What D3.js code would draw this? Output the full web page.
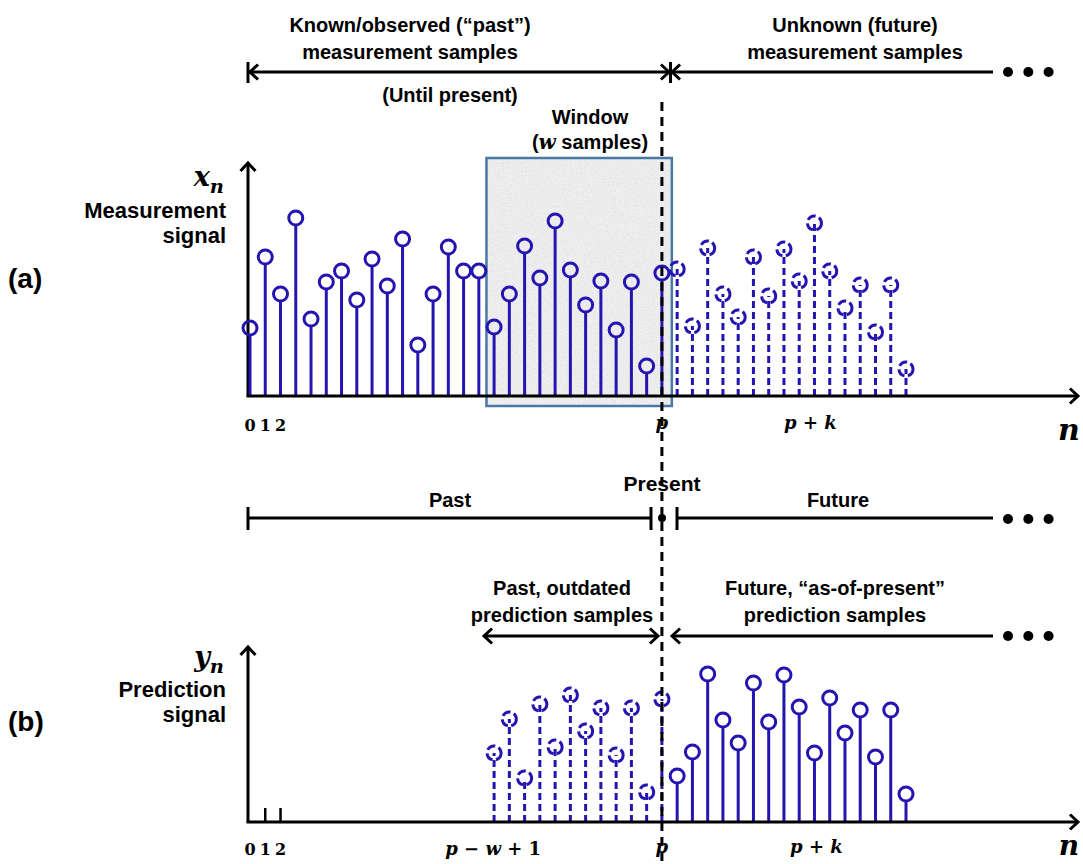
<!DOCTYPE html>
<html>
<head>
<meta charset="utf-8">
<script src="https://cdn.jsdelivr.net/npm/d3@7"></script>
<style>
  body { margin: 0; background: #fff; }
  .lbl { font-family: "Liberation Sans", Arial, sans-serif; font-weight: bold; font-size: 20px; fill: #000; }
  .math { font-family: "DejaVu Serif", "Liberation Serif", serif; font-weight: bold; fill: #000; }
</style>
</head>
<body>
<svg id="fig" width="1083" height="864"></svg>
<script>
// Sample amplitudes (arbitrary units), listed in order of the sample index n.
const measuredKnown = [3.4, 6.95, 5.1, 8.9, 3.85, 5.7, 6.25, 4.8, 6.85, 5.5, 7.85, 2.55, 5.1, 7.45,
                       6.25, 6.25, 3.45, 5.1, 7.5, 5.9, 8.75, 6.3, 4.55, 5.75, 3.3, 5.7, 1.5, 6.15];   // n = 0..27
const measuredUnknown = [6.35, 3.5, 7.4, 5.1, 3.95, 6.95, 5.0, 7.35, 5.75, 8.65, 6.25, 4.4, 5.55, 3.2, 5.55, 1.35]; // n = 28..43
const predictionOutdated = [3.45, 5.15, 2.2, 5.9, 3.75, 6.35, 4.55, 5.7, 3.35, 5.7, 1.5, 6.15];           // n = 16..27
const predictionAhead = [2.3, 3.5, 7.4, 5.1, 3.95, 6.95, 5.0, 7.35, 5.75, 3.45, 6.2, 4.45, 5.6, 3.25, 5.6, 1.4]; // n = 28..43
const predictionStub = [0.7, 0.7];                                                                     // n = 1..2

const firstKnown = 0, firstUnknown = 28, firstOutdated = 16, firstAhead = 28, firstStub = 1;
const presentIndex = 27;     // p
const windowFirst = 16;      // p - w + 1
const horizonIndex = 37;     // p + k
const lastIndex = 43;
const originTicks = ["0", "1", "2"];

const BLUE = "#2414b0";
const svg = d3.select("#fig");

const x = d3.scaleLinear().domain([0, lastIndex]).range([250, 906]);
const yA = d3.scaleLinear().domain([0, 10]).range([396, 196]);
const yB = d3.scaleLinear().domain([0, 10]).range([822, 622]);

const withIndex = (vals, start) => vals.map((v, i) => ({ n: start + i, v }));
const line = d3.line();

// grainy fill for the window box
const defs = svg.append("defs");
const grain = defs.append("filter").attr("id", "grain").attr("x", 0).attr("y", 0).attr("width", 1).attr("height", 1);
grain.append("feTurbulence").attr("type", "fractalNoise").attr("baseFrequency", 0.9).attr("numOctaves", 3).attr("seed", 4).attr("result", "noise");
grain.append("feColorMatrix").attr("in", "noise").attr("type", "matrix")
  .attr("values", "0 0 0 0 0.68  0 0 0 0 0.68  0 0 0 0 0.70  1.4 0 0 0 -0.55").attr("result", "dots");
grain.append("feComposite").attr("in", "dots").attr("in2", "SourceGraphic").attr("operator", "in");

function chevron(g, tx, ty, dx, dy, len = 11, ang = 0.75) {
  const a = Math.atan2(dy, dx);
  const p1 = [tx - len * Math.cos(a - ang), ty - len * Math.sin(a - ang)];
  const p2 = [tx - len * Math.cos(a + ang), ty - len * Math.sin(a + ang)];
  g.append("path").attr("d", line([p1, [tx, ty], p2]))
    .attr("fill", "none").attr("stroke", "#000").attr("stroke-width", 3)
    .attr("stroke-linejoin", "miter").attr("stroke-linecap", "butt");
}
function seg(g, x1, y1, x2, y2, w = 3) {
  g.append("path").attr("d", line([[x1, y1], [x2, y2]])).attr("stroke", "#000").attr("stroke-width", w).attr("fill", "none");
}
function dots(g, x0, y) {
  [0, 1, 2].forEach(i => g.append("circle").attr("cx", x0 + i * 20.3).attr("cy", y).attr("r", 5).attr("fill", "#000"));
}
function text(g, s, tx, ty, size = 20, anchor = "middle") {
  return g.append("text").attr("class", "lbl").attr("x", tx).attr("y", ty)
    .attr("text-anchor", anchor).style("font-size", size + "px").text(s);
}
function mathText(g, parts, tx, ty, size, anchor = "middle") {
  const t = g.append("text").attr("class", "math").attr("x", tx).attr("y", ty)
    .attr("text-anchor", anchor).style("font-size", size + "px");
  parts.forEach(([s, italic, sub]) => {
    const sp = t.append("tspan").text(s).attr("font-style", italic ? "italic" : "normal");
    if (sub) sp.style("font-size", (size * 0.72) + "px").attr("dy", size * 0.25);
  });
  return t;
}

function stems(g, data, y, dashed) {
  const r = 7;
  const sel = g.selectAll(null).data(data).enter().append("g");
  sel.append("line")
    .attr("x1", d => x(d.n)).attr("x2", d => x(d.n))
    .attr("y1", y(0)).attr("y2", d => dashed ? y(d.v) : y(d.v) + r)
    .attr("stroke", BLUE).attr("stroke-width", 3)
    .attr("stroke-dasharray", dashed ? "7,4" : null);
  sel.append("circle")
    .attr("cx", d => x(d.n)).attr("cy", d => y(d.v)).attr("r", r)
    .attr("fill", "none").attr("stroke", BLUE).attr("stroke-width", 3)
    .attr("stroke-dasharray", dashed ? "9,3.5" : null);
}

function panel(y, topY) {
  const g = svg.append("g");
  seg(g, 248, y(0), 248, topY);
  chevron(g, 248, topY, 0, -1);
  return g;
}

// ---------- top annotations ----------
const headG = svg.append("g");
text(headG, "Known/observed (\u201Cpast\u201D)", 410, 32);
text(headG, "measurement samples", 410, 59);
text(headG, "Unknown (future)", 855, 32);
text(headG, "measurement samples", 855, 59);
seg(headG, 248, 72, 669, 72);
seg(headG, 248, 62, 248, 83);
seg(headG, 670.5, 62, 670.5, 83);
chevron(headG, 250, 72, -1, 0);
chevron(headG, 669, 72, 1, 0);
seg(headG, 672, 72, 993, 72);
chevron(headG, 672, 72, -1, 0);
dots(headG, 1008, 72);
text(headG, "(Until present)", 450, 102);
text(headG, "Window", 590, 124);
const ws = text(headG, "(", 590, 149);
ws.append("tspan").attr("font-family", "'DejaVu Serif', serif").attr("font-style", "italic").text("w");
ws.append("tspan").text(" samples)");

// ---------- panel (a): measurement signal ----------
const winG = svg.append("g");
const wx0 = x(windowFirst - 0.5), wx1 = x(presentIndex + 0.65);
winG.append("rect").attr("x", wx0).attr("y", 158).attr("width", wx1 - wx0).attr("height", 248).attr("fill", "#f0f0f1");
winG.append("rect").attr("x", wx0).attr("y", 158).attr("width", wx1 - wx0).attr("height", 248).attr("fill", "#fff").attr("filter", "url(#grain)");
winG.append("rect").attr("x", wx0).attr("y", 158).attr("width", wx1 - wx0).attr("height", 248)
  .attr("fill", "none").attr("stroke", "#4a78a6").attr("stroke-width", 2.5);

const gA = panel(yA, 163);
stems(gA, withIndex(measuredKnown, firstKnown), yA, false);
stems(gA, withIndex(measuredUnknown, firstUnknown), yA, true);
seg(gA, 246.5, yA(0), 1077, yA(0));
chevron(gA, 1078, yA(0), 1, 0);

mathText(gA, [["x", true], ["n", true, true]], 224, 186, 27, "end");
text(gA, "Measurement", 226, 218, 22, "end");
text(gA, "signal", 226, 243, 22, "end");
text(gA, "(a)", 8, 288, 28, "start");
originTicks.forEach((s, i) => mathText(gA, [[s, false]], x(i), 431, 16));
mathText(gA, [["p", true]], x(presentIndex), 429, 18);
mathText(gA, [["p", true], [" + ", false], ["k", true]], x(horizonIndex) - 4, 429, 18);
mathText(gA, [["n", true]], 1069, 440, 30);

// ---------- middle timeline ----------
const mid = svg.append("g");
text(mid, "Present", 662, 491, 21);
text(mid, "Past", 450, 507);
text(mid, "Future", 838, 507);
seg(mid, 248, 518, 651, 518);
seg(mid, 248, 507, 248, 530);
seg(mid, 651, 507, 651, 530);
mid.append("circle").attr("cx", 662).attr("cy", 518).attr("r", 4).attr("fill", "#000");
seg(mid, 677, 507, 677, 530);
seg(mid, 677, 518, 993, 518);
dots(mid, 1008, 519);

text(mid, "Past, outdated", 562, 595);
text(mid, "prediction samples", 562, 622);
text(mid, "Future, \u201Cas-of-present\u201D", 835, 595);
text(mid, "prediction samples", 835, 622);
seg(mid, 485, 636, 657, 636);
chevron(mid, 484, 636, -1, 0);
chevron(mid, 658, 636, 1, 0);
seg(mid, 673, 636, 993, 636);
chevron(mid, 672, 636, -1, 0);
dots(mid, 1008, 636);

// ---------- panel (b): prediction signal ----------
const gB = panel(yB, 647);
gB.selectAll(null).data(withIndex(predictionStub, firstStub)).enter().append("line")
  .attr("x1", d => x(d.n)).attr("x2", d => x(d.n))
  .attr("y1", yB(0)).attr("y2", d => yB(d.v))
  .attr("stroke", "#000").attr("stroke-width", 2.5);
stems(gB, withIndex(predictionOutdated, firstOutdated), yB, true);
stems(gB, withIndex(predictionAhead, firstAhead), yB, false);
seg(gB, 246.5, yB(0), 1077, yB(0));
chevron(gB, 1078, yB(0), 1, 0);

mathText(gB, [["y", true], ["n", true, true]], 224, 666, 27, "end");
text(gB, "Prediction", 226, 697, 22, "end");
text(gB, "signal", 226, 722, 22, "end");
text(gB, "(b)", 8, 731, 28, "start");
originTicks.forEach((s, i) => mathText(gB, [[s, false]], x(i), 855, 16));
mathText(gB, [["p", true], [" \u2212 ", false], ["w", true], [" + 1", false]], x(windowFirst) - 1, 855, 18);
mathText(gB, [["p", true]], x(presentIndex), 853, 18);
mathText(gB, [["p", true], [" + ", false], ["k", true]], x(horizonIndex) + 2, 853, 18);
mathText(gB, [["n", true]], 1069, 855, 28);

// present marker running through both panels
svg.append("path").attr("d", line([[x(presentIndex), 102], [x(presentIndex), 864]]))
  .attr("stroke", "#000").attr("stroke-width", 3).attr("stroke-dasharray", "9,6").attr("fill", "none");
</script>
</body>
</html>
